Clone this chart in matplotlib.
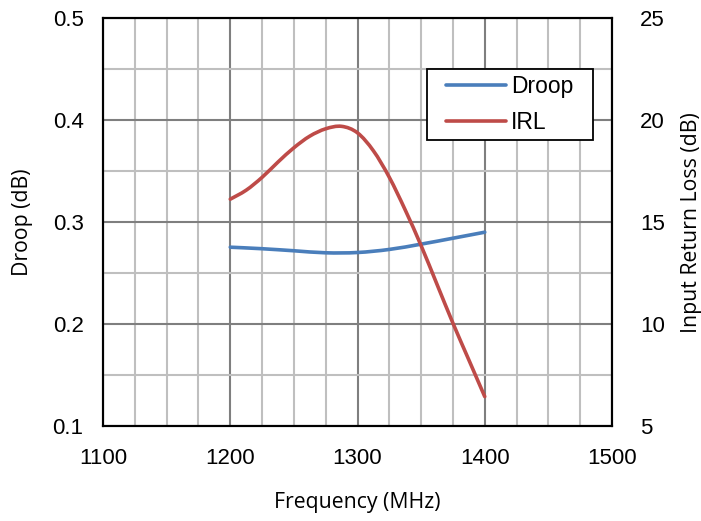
import matplotlib.pyplot as plt
from matplotlib.ticker import MultipleLocator
from matplotlib.path import Path
from matplotlib.patches import PathPatch
from matplotlib.lines import Line2D
from matplotlib.legend_handler import HandlerLine2D

# Droop (left axis) and input return loss (right axis) vs frequency
freq_droop = [1200, 1225, 1250, 1275, 1300, 1325, 1350, 1375, 1400]
droop = [0.2755, 0.2740, 0.2720, 0.2700, 0.2703, 0.2733, 0.2785, 0.2843, 0.2902]

freq_irl = [1200, 1212.5, 1225, 1237.5, 1250, 1262.5, 1275, 1287.5, 1300,
            1312.5, 1325, 1337.5, 1350, 1362.5, 1375, 1387.5, 1400]
irl = [16.13, 16.57, 17.2, 17.95, 18.65, 19.22, 19.58, 19.7, 19.38,
       18.5, 17.2, 15.6, 13.85, 11.95, 10.05, 8.25, 6.45]

tick_font = 'Liberation Sans'
label_font = 'Open Sans'
blue = '#4a7ebb'
red = '#be4b48'


def smooth_path(x, y):
    # excel-like smoothed line: bezier segments through every point
    verts = [(x[0], y[0])]
    codes = [Path.MOVETO]
    n = len(x)
    for i in range(n - 1):
        p0 = (x[max(i - 1, 0)], y[max(i - 1, 0)])
        p1 = (x[i], y[i])
        p2 = (x[i + 1], y[i + 1])
        p3 = (x[min(i + 2, n - 1)], y[min(i + 2, n - 1)])
        c1 = (p1[0] + (p2[0] - p0[0]) / 6, p1[1] + (p2[1] - p0[1]) / 6)
        c2 = (p2[0] - (p3[0] - p1[0]) / 6, p2[1] - (p3[1] - p1[1]) / 6)
        verts += [c1, c2, p2]
        codes += [Path.CURVE4] * 3
    return Path(verts, codes)


class PaddedLine(HandlerLine2D):
    # legend line that starts a bit in from the frame
    def get_xdata(self, legend, xdescent, ydescent, width, height, fontsize):
        x0 = -xdescent + 9.5
        return [x0, -xdescent + width], [0.5 * (x0 - xdescent + width)]


fig = plt.figure(figsize=(7.01, 5.21), dpi=100)
ax = fig.add_axes([0.147, 0.182, 0.726, 0.783])
ax2 = ax.twinx()

ax.add_patch(PathPatch(smooth_path(freq_droop, droop), fill=False, edgecolor=blue,
                       lw=2.6, capstyle='round', joinstyle='round'))
ax2.add_patch(PathPatch(smooth_path(freq_irl, irl), fill=False, edgecolor=red,
                        lw=2.6, capstyle='round', joinstyle='round'))

ax.set_xlim(1100, 1500)
ax.set_ylim(0.1, 0.5)
ax2.set_ylim(5, 25)

ax.xaxis.set_major_locator(MultipleLocator(100))
ax.xaxis.set_minor_locator(MultipleLocator(25))
ax.yaxis.set_major_locator(MultipleLocator(0.1))
ax.yaxis.set_minor_locator(MultipleLocator(0.05))
ax2.yaxis.set_major_locator(MultipleLocator(5))

ax.set_axisbelow(True)
ax.grid(which='major', color='#7f7f7f', lw=1.5)
ax.grid(which='minor', color='#bfbfbf', lw=1.5)

for a in (ax, ax2):
    a.tick_params(which='both', length=0, labelsize=16)
    for s in a.spines.values():
        s.set_linewidth(1.5)
        s.set_color('black')
    for t in a.get_xticklabels() + a.get_yticklabels():
        t.set_fontfamily(tick_font)
ax.tick_params(axis='x', pad=16)
ax.tick_params(axis='y', pad=14)
ax2.tick_params(axis='y', pad=20)

ax.set_xlabel('Frequency (MHz)', fontsize=15.3, family=label_font, labelpad=16)
ax.set_ylabel('Droop (dB)', fontsize=15.3, family=label_font, labelpad=14)
ax2.set_ylabel('Input Return Loss (dB)', fontsize=15.3, family=label_font, labelpad=12)

h1 = Line2D([], [], color=blue, lw=2.6, solid_capstyle='round')
h2 = Line2D([], [], color=red, lw=2.6, solid_capstyle='round')
leg = ax2.legend([h1, h2], ['Droop', 'IRL'], loc='upper left', mode='expand',
                 bbox_to_anchor=(0.637, 0.875, 0.326, 0),
                 prop={'family': tick_font, 'size': 16.5}, frameon=True, fancybox=False,
                 edgecolor='black', framealpha=1, handlelength=3.2, handletextpad=0.22,
                 borderpad=0.24, labelspacing=0.58, borderaxespad=0,
                 handler_map={Line2D: PaddedLine()})
leg.get_frame().set_linewidth(1.3)

fig.savefig('out.png', dpi=100)
